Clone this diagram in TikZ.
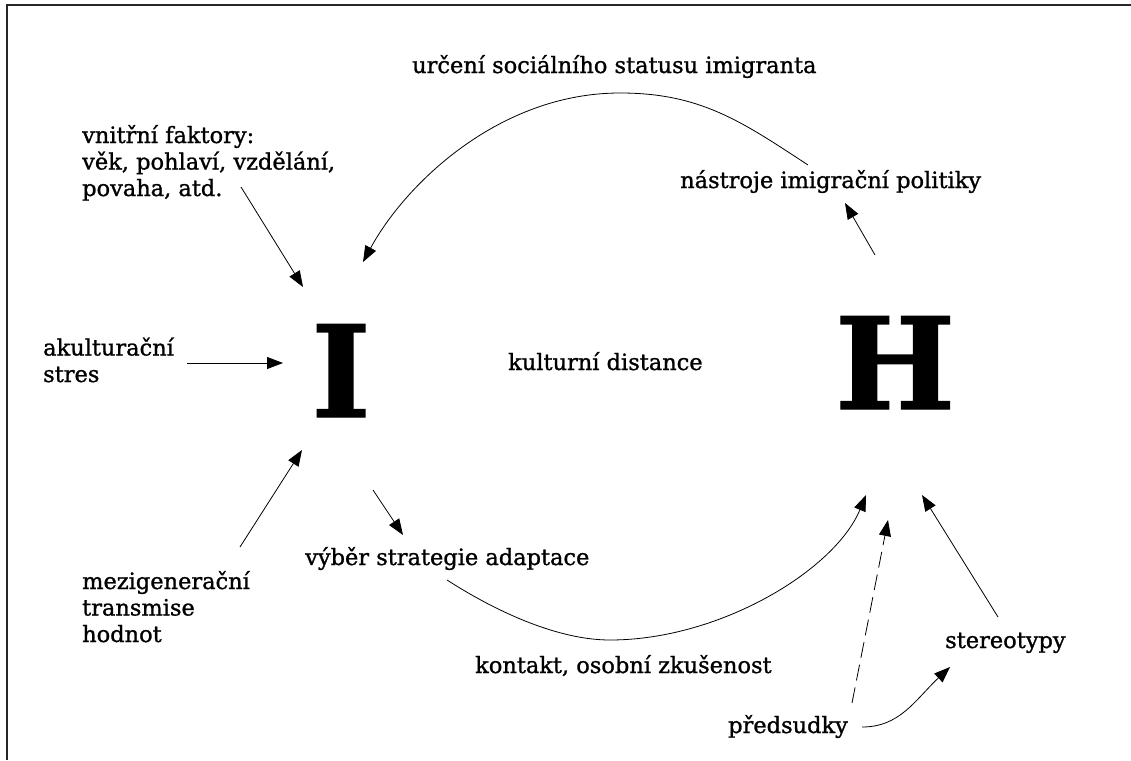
\documentclass[tikz,border=0pt]{standalone}
\usepackage{fontspec}
\setmainfont{DejaVu Serif}[FakeBold=1.1]
\usetikzlibrary{arrows.meta}

\begin{document}
\begin{tikzpicture}[x=1pt,y=-1pt,
  lbl/.style={font=\fontsize{22.5}{26.5}\selectfont, inner sep=0pt, anchor=base west, align=left},
  big/.style={font=\fontsize{127}{127}\selectfont\bfseries, inner sep=0pt, anchor=base},
  link/.style={line width=0.8pt, -{Triangle[length=16pt,width=12pt]}},
  frame/.style={line width=2pt, black!85},
]
\useasboundingbox (0,0) rectangle (1131,760);

% open frame (top and left edges)
\draw[frame] (1131,5.5) -- (6.5,5.5) -- (6.5,760);

% the two actors
\node[big] (I) at (341,417) {I};
\node[big] (H) at (895,409) {H};

% labels (multi-line ones are placed by the baseline of their last line)
\node[lbl] (status)   at (412,73)  {určení sociálního statusu imigranta};
\node[lbl] (nastroje) at (680,188) {nástroje imigrační politiky};
\node[lbl] (vnitrni)  at (82,196)  {vnitřní faktory:\\věk, pohlaví, vzdělání,\\povaha, atd.};
\node[lbl] (akult)    at (43,382)  {akulturační\\stres};
\node[lbl] (distance) at (508,370) {kulturní distance};
\node[lbl] (mezigen)  at (82,642)  {mezigenerační\\transmise\\hodnot};
\node[lbl] (vyber)    at (305,565) {výběr strategie adaptace};
\node[lbl] (kontakt)  at (475,673) {kontakt, osobní zkušenost};
\node[lbl] (stereo)   at (945,648) {stereotypy};
\node[lbl] (predsud)  at (728,733) {předsudky};

% connector end points
\coordinate (vnS) at (241,187);  \coordinate (vnT) at (303,287);
\coordinate (akS) at (187,363);  \coordinate (akT) at (283,363);
\coordinate (mgS) at (240,547);  \coordinate (mgT) at (302,450);
\coordinate (vbS) at (373,490);  \coordinate (vbT) at (403,535);
\coordinate (naS) at (875,255);  \coordinate (naT) at (845,203);
\coordinate (stS) at (808,165);  \coordinate (stM) at (620,93);  \coordinate (stT) at (363,262);
\coordinate (koS) at (447,580);  \coordinate (koM) at (610,640); \coordinate (koT) at (866,495);
\coordinate (pdS) at (852,703);  \coordinate (pdT) at (888,520);
\coordinate (pcS) at (862,727);  \coordinate (pcT) at (950,667);
\coordinate (seS) at (998,617);  \coordinate (seT) at (922,495);

% straight influences
\draw[link] (vnS) -- (vnT);
\draw[link] (akS) -- (akT);
\draw[link] (mgS) -- (mgT);
\draw[link] (vbS) -- (vbT);
\draw[link] (naS) -- (naT);
\draw[link] (seS) -- (seT);
\draw[link, dash pattern=on 16pt off 7pt] (pdS) -- (pdT);

% status feedback arc over the top
\draw[link] (stS) .. controls (741,121) and (700,93) .. (stM)
                  .. controls (500,93) and (406,183) .. (stT);

% contact curve under the middle
\draw[link] (koS) .. controls (500,614) and (560,640) .. (koM)
                  .. controls (720,640) and (835,570) .. (koT);

% prejudices feed stereotypes
\draw[link] (pcS) .. controls (900,727) and (915,700) .. (pcT);
\end{tikzpicture}
\end{document}
